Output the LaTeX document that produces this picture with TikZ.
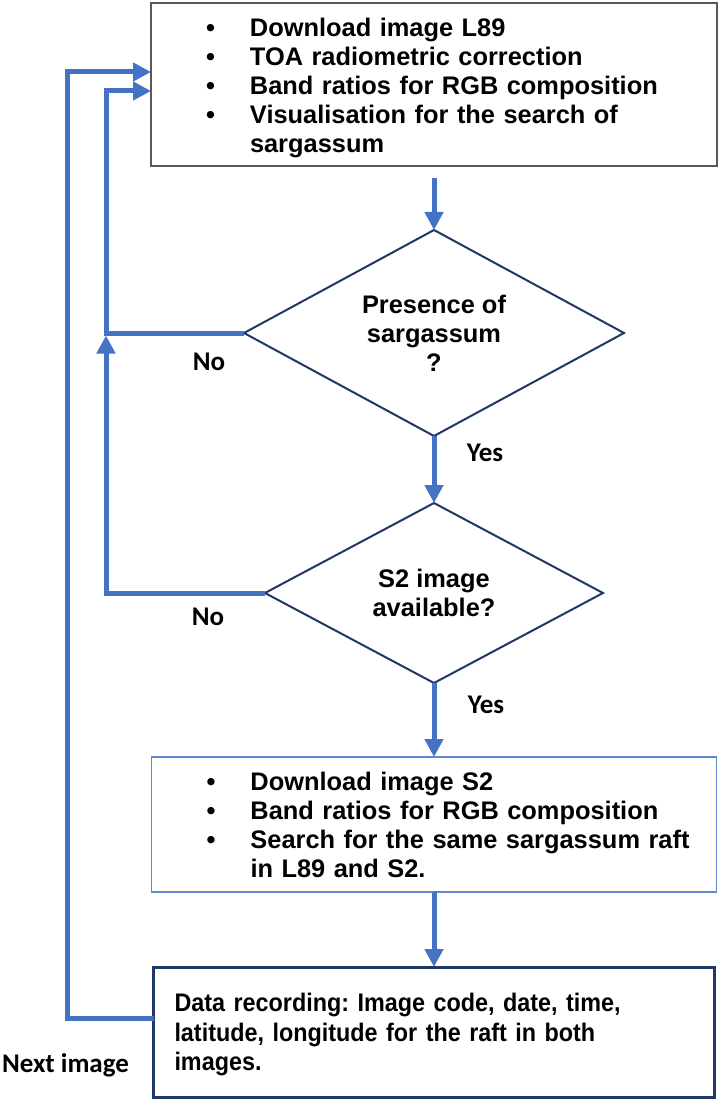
\documentclass[tikz,border=0pt]{standalone}
\usepackage{fontspec}
\setmainfont{Liberation Sans}
\newfontfamily\answerfont{Carlito}
\newfontfamily\recordfont[FakeStretch=0.92]{Liberation Sans}
\usetikzlibrary{arrows.meta, positioning, calc, shapes.geometric}
\frenchspacing

\definecolor{flowblue}{HTML}{4472C4}
\definecolor{navyline}{HTML}{203864}
\definecolor{boxgray}{HTML}{595959}

% bullet line and its continuation
\newcommand{\bitem}[1]{\hspace*{27.5pt}\makebox[22pt][l]{\textbullet}#1}
\newcommand{\bcont}[1]{\hspace*{49.5pt}#1}

\begin{document}
\begin{tikzpicture}[
    >={Triangle[length=9pt, width=9pt]},
    font=\fontsize{12.7}{14.5}\selectfont\bfseries,
    % Define styles for the different node types
    graybox/.style={rectangle, draw=boxgray, line width=1pt, text width=283pt, minimum height=81.5pt, inner xsep=0pt, inner ysep=0pt, outer sep=0pt, align=left},
    bluebox/.style={rectangle, draw=flowblue!85, line width=0.8pt, text width=282.5pt, minimum height=67.5pt, inner xsep=0pt, inner ysep=0pt, outer sep=0pt, align=left},
    navybox/.style={rectangle, draw=navyline, line width=1.5pt, text width=259.5pt, minimum height=65pt, inner xsep=10.5pt, inner ysep=0pt, outer sep=0pt, align=left, font=\recordfont\fontsize{12.7}{14.7}\selectfont\bfseries},
    decision/.style={diamond, draw=navyline, line width=1pt, aspect=2, inner sep=0pt, outer sep=0pt, align=center},
    flow/.style={->, draw=flowblue, line width=2.5pt},
    answer/.style={font=\answerfont\fontsize{13.5}{16}\selectfont\bfseries, inner sep=0pt},
]
\useasboundingbox (0,0) rectangle (360pt,-550.5pt);

% -------------------------
% Main Flow Nodes
% -------------------------
\node (l89) [graybox] at (217pt,-42.25pt) {\rule{0pt}{13pt}\bitem{Download image L89}\\
    \bitem{TOA radiometric correction}\\
    \bitem{Band ratios for RGB composition}\\
    \bitem{Visualisation for the search of}\\
    \bcont{sargassum}};
\node (presence) [decision, minimum width=190pt, minimum height=103pt, below=32pt of l89] {Presence of\\sargassum\\?};
\node (avail) [decision, minimum width=169pt, minimum height=90pt, below=33.5pt of presence] {S2 image\\available?};
\node (s2) [bluebox, below=37pt of avail] {\bitem{Download image S2}\\
    \bitem{Band ratios for RGB composition}\\
    \bitem{Search for the same sargassum raft}\\
    \bcont{in L89 and S2.}};
\node (record) [navybox, below=37.5pt of s2] {\rule{0pt}{12pt}Data recording: Image code, date, time,\\latitude, longitude for the raft in both\\images.};

% Answer labels
\node (no1) [answer] at ($(presence.west)+(-17.5pt,-14.5pt)$) {No};
\node (yes1) [answer] at ($(presence.south)+(25.5pt,-8.5pt)$) {Yes};
\node (no2) [answer] at ($(avail.west)+(-28.5pt,-12pt)$) {No};
\node (yes2) [answer] at ($(avail.south)+(26pt,-11pt)$) {Yes};
\node (nextimg) [answer] at ($(record.west)+(-44pt,-16.5pt)$) {Next image};

% -------------------------
% Arrow Connections
% -------------------------
\draw[flow] ([yshift=-6pt]l89.south) -- (presence.north);
\draw[flow] (presence.south) -- (avail.north);
\draw[flow] (avail.south) -- (s2.north);
\draw[flow] (s2.south) -- (record.north);

% No branches back to the top
\draw[flow] (presence.west) -- ++(-69pt,0) coordinate (nojoin) |- ([yshift=-3.25pt]l89.west);
\draw[flow, shorten >=1.25pt] (avail.west) -| (nojoin);

% Next image loop
\draw[flow] ([yshift=7pt]record.west) -- ++(-43.25pt,0) |- ([yshift=6.25pt]l89.west);

\end{tikzpicture}
\end{document}
